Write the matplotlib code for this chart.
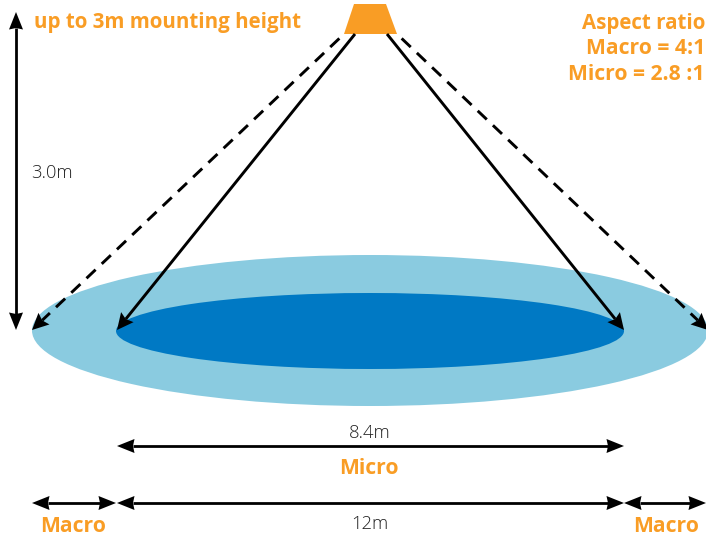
import matplotlib
matplotlib.use("Agg")
import matplotlib.pyplot as plt
from matplotlib.patches import Ellipse, Polygon
import numpy as np

plt.rcParams['font.family'] = ['Open Sans', 'DejaVu Sans']

ORANGE = '#F99D25'
LIGHT = '#8ACBE0'
DARK = '#0079C4'

# Layout in picture units
macro_ellipse = (370, 330.5, 676, 151)
micro_ellipse = (370, 331, 508, 76)
lamp_x = [354, 386, 397, 344]
lamp_y = [4, 4, 34, 34]

solid_arrows = [((355, 34), (117, 330)), ((387, 34), (624, 330))]
dashed_arrows = [((344, 34), (32, 330)), ((397, 34), (708, 330))]
double_arrows = [((16, 12), (16, 330)), ((117, 446), (624, 446)),
                 ((32, 503), (116, 503)), ((117, 503), (624, 503)),
                 ((624, 503), (706, 503))]

orange_labels = [("up to 3m mounting height", 34, 22.5, 'left', 14.8),
                 ("Aspect ratio", 705, 23, 'right', 14.8),
                 ("Macro = 4:1", 705, 49, 'right', 15.2),
                 ("Micro = 2.8 :1", 705, 75, 'right', 15.2),
                 ("Micro", 369, 468, 'center', 15.2),
                 ("Macro", 73, 527, 'center', 15.2),
                 ("Macro", 666, 527, 'center', 15.2)]
dark_labels = [("3.0m", 52, 173), ("8.4m", 370, 433), ("12m", 370, 524)]

fig = plt.figure(figsize=(7.06, 5.42), dpi=100)
ax = fig.add_axes([0, 0, 1, 1])
ax.set_xlim(0, 706)
ax.set_ylim(542, 0)
ax.axis('off')

for (cx, cy, w, h), col in [(macro_ellipse, LIGHT), (micro_ellipse, DARK)]:
    ax.add_patch(Ellipse((cx, cy), w, h, fc=col, ec='none', zorder=1, clip_on=True))

ax.add_patch(Polygon(list(zip(lamp_x, lamp_y)), closed=True, fc=ORANGE, ec='none', zorder=2))


def head(tip, frm, length=17.5, half=7, notch=1.5):
    tip = np.array(tip, float)
    d = tip - np.array(frm, float)
    d /= np.hypot(*d)
    n = np.array([-d[1], d[0]])
    base = tip - d * length
    inner = tip - d * (length - notch)
    pts = [tip, base + n * half, inner, base - n * half]
    ax.add_patch(Polygon(pts, closed=True, fc='black', ec='none', zorder=4, clip_on=True))
    return inner


def shaft(a, b, **kw):
    ax.plot([a[0], b[0]], [a[1], b[1]], color='black', zorder=3, solid_capstyle='butt',
            dash_capstyle='butt', **kw)


for a, b in solid_arrows:
    e = head(b, a, length=16.5, half=8, notch=2.5)
    shaft(a, e, lw=2.1)
for a, b in dashed_arrows:
    e = head(b, a, length=16.5, half=8, notch=2.5)
    shaft(a, e, lw=2.1, linestyle=(5.0, (4.3, 2.9)))
for a, b in double_arrows:
    e1 = head(a, b)
    e2 = head(b, a)
    shaft(e1, e2, lw=2.0)

for s, x, y, ha, fs in orange_labels:
    ax.text(x, y, s, color=ORANGE, fontsize=fs, fontweight='bold', ha=ha, va='center', zorder=5)
for s, x, y in dark_labels:
    ax.text(x, y, s, color='#222222', fontsize=13.2, fontweight='light', ha='center', va='center', zorder=5)

fig.savefig('out.png', dpi=100)
